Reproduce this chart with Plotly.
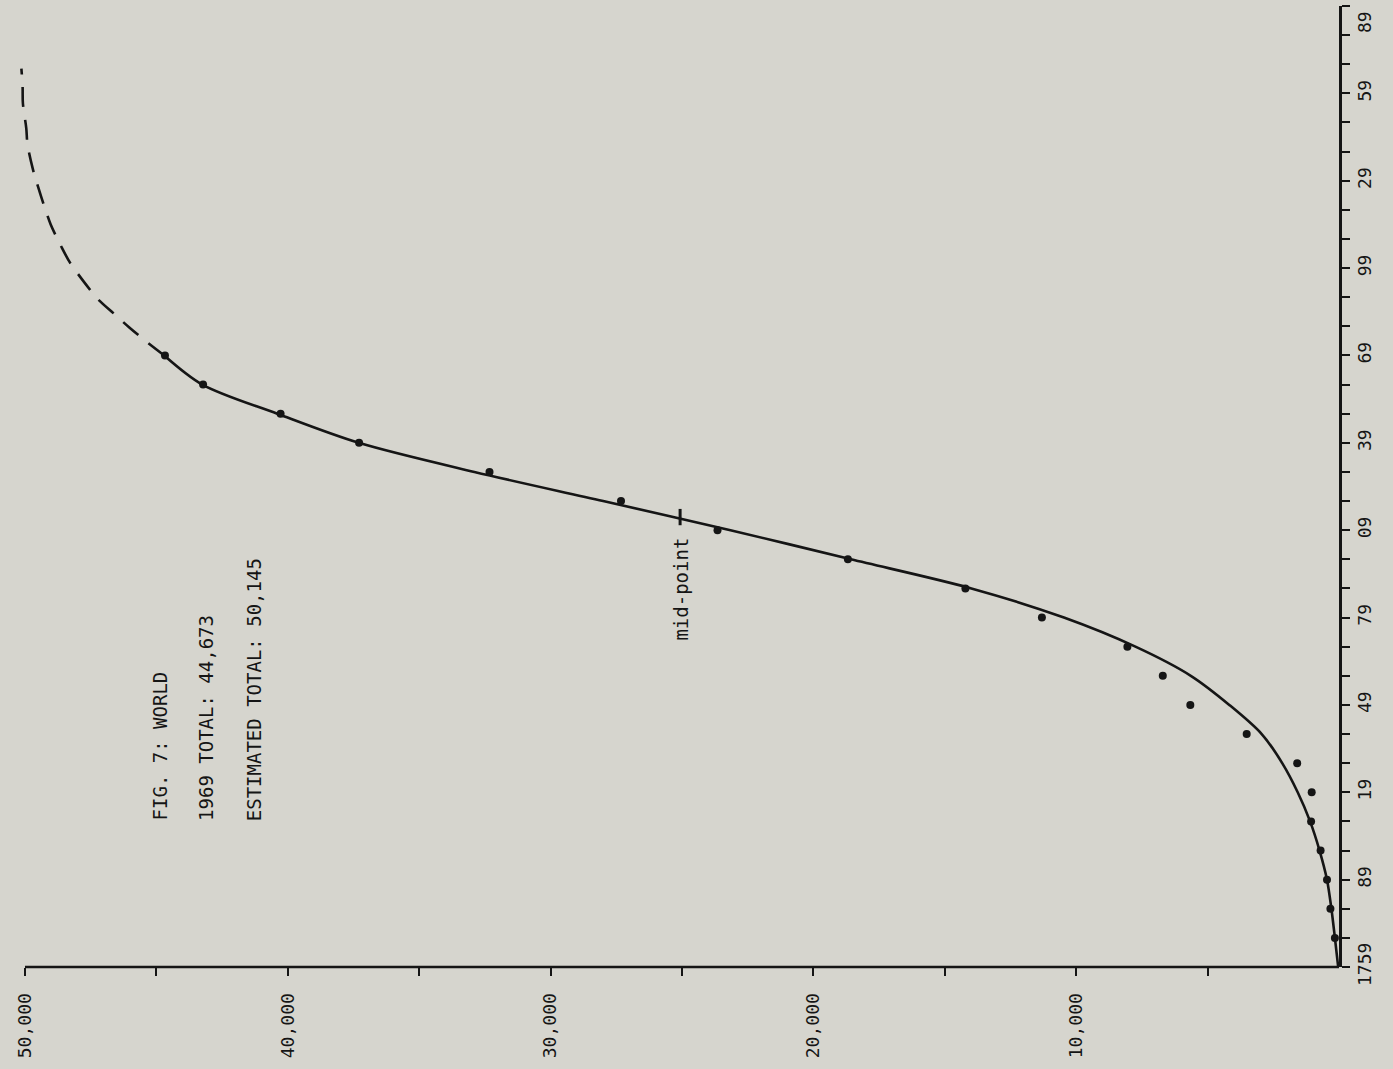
import plotly.graph_objects as go

# Cumulative world totals, observed at ten-year intervals
obs_years = [1769, 1779, 1789, 1799, 1809, 1819, 1829, 1839, 1849, 1859, 1869,
             1879, 1889, 1899, 1909, 1919, 1929, 1939, 1949, 1959, 1969]
obs_totals = [156, 327, 457, 700, 1062, 1039, 1591, 3512, 5658, 6705, 8052,
              11305, 14216, 18687, 23649, 27321, 32325, 37287, 40274, 43223, 44673]

# Fitted growth curve through the observed period
fit_years = [1759, 1769, 1779, 1789, 1799, 1809, 1819, 1829, 1839, 1849, 1859,
             1869, 1879, 1889, 1899, 1909, 1919, 1929, 1939, 1949, 1959, 1969]
fit_totals = [30, 156, 289, 457, 740, 1100, 1572, 2161, 2941, 4174, 5639,
              7747, 10468, 13988, 18573, 23155, 28000, 32900, 37300, 40400, 43250, 44700]

# Projected continuation of the curve toward the estimated total
proj_years = [1969, 1974, 1978.6, 1983, 1988.7, 1993.5, 2000.7, 2006.5, 2014, 2019,
              2028, 2033, 2041.5, 2047, 2055.6, 2061.4, 2067.5]
proj_totals = [44700, 45415, 46030, 46572, 47264, 47691, 48276, 48626, 49022, 49220,
               49539, 49700, 49905, 49951, 50080, 50091, 50137]

# Mid-point of the curve (half of the estimated total)
mid_total = 25072
mid_year = 1913.5

# Axis ticks
value_ticks = [5000, 10000, 15000, 20000, 25000, 30000, 35000, 40000, 45000, 50000]
value_labels = ["", "10,000", "", "20,000", "", "30,000", "", "40,000", "", "50,000"]
year_ticks = list(range(1759, 2090, 10))
year_labels = ["1759", "", "", "89", "", "", "19", "", "", "49", "", "", "79", "", "",
               "09", "", "", "39", "", "", "69", "", "", "99", "", "", "29", "", "",
               "59", "", "", ""]
last_year_label = "89"

INK = "#151515"
PAPER = "#d6d5ce"
FONT = "DejaVu Sans Mono"

fig = go.Figure()

fig.add_trace(go.Scatter(
    x=fit_totals, y=fit_years, mode="lines",
    line=dict(color=INK, width=2.6, shape="spline", smoothing=0.9),
    hoverinfo="skip", showlegend=False))

fig.add_trace(go.Scatter(
    x=proj_totals, y=proj_years, mode="lines",
    line=dict(color=INK, width=2.6, shape="spline", smoothing=0.9, dash="20px,13px"),
    hoverinfo="skip", showlegend=False))

fig.add_trace(go.Scatter(
    x=obs_totals, y=obs_years, mode="markers",
    marker=dict(color=INK, size=8),
    showlegend=False))

# value axis line, ending at 50,000
fig.add_shape(type="line", xref="x", yref="paper",
              x0=0, x1=50000, y0=0, y1=0,
              line=dict(color=INK, width=2.5))

# short cross-bar marking the mid-point
fig.add_shape(type="line", xref="x", yref="y",
              x0=mid_total, x1=mid_total, y0=mid_year - 2.8, y1=mid_year + 2.8,
              line=dict(color=INK, width=3))

fig.add_annotation(x=mid_total, y=mid_year - 6.5, xref="x", yref="y",
                   text="mid-point", textangle=-90, showarrow=False,
                   xanchor="center", yanchor="top",
                   font=dict(family=FONT, size=19, color=INK))

# label of the topmost year tick, kept inside the page
fig.add_annotation(x=1, y=2089, xref="paper", yref="y",
                   text=last_year_label, textangle=-90, showarrow=False,
                   xanchor="center", yanchor="top", xshift=25, yshift=-3,
                   font=dict(family=FONT, size=18, color=INK))

caption = [("FIG. 7: WORLD", 44860), ("1969 TOTAL: 44,673", 43110),
           ("ESTIMATED TOTAL: 50,145", 41290)]
for text, xpos in caption:
    fig.add_annotation(x=xpos, y=1808.5, xref="x", yref="y",
                       text=text, textangle=-90, showarrow=False,
                       xanchor="center", yanchor="bottom",
                       font=dict(family=FONT, size=19, color=INK))

fig.update_layout(
    width=1393, height=1069, autosize=False,
    margin=dict(l=17, r=54, t=6, b=102),
    paper_bgcolor=PAPER, plot_bgcolor=PAPER,
    font=dict(family=FONT, size=18, color=INK),
    xaxis=dict(range=[50304, 0], showline=False, automargin=False,
               ticks="outside", ticklen=8, tickwidth=2, tickcolor=INK,
               tickvals=value_ticks, ticktext=value_labels, tickangle=-90,
               ticklabelstandoff=10,
               showgrid=False, zeroline=False, fixedrange=True),
    yaxis=dict(range=[1759, 2089], side="right", showline=True, linecolor=INK,
               linewidth=2.5, ticks="outside", ticklen=8, tickwidth=2, tickcolor=INK,
               tickvals=year_ticks, ticktext=year_labels, tickangle=-90,
               automargin=False,
               showgrid=False, zeroline=False, fixedrange=True),
)

fig.write_html("out.html")
